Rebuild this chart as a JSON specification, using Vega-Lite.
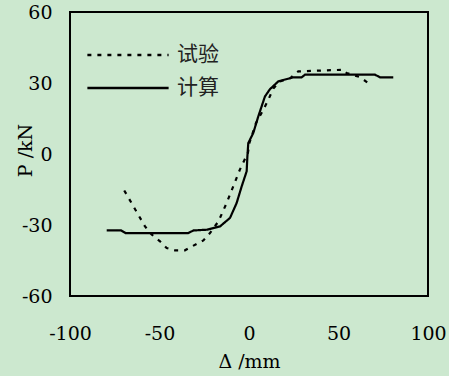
{
  "$schema": "https://vega.github.io/schema/vega-lite/v6.json",
  "width": 358,
  "height": 284,
  "autosize": "none",
  "padding": {"left": 70, "top": 12, "right": 21, "bottom": 80},
  "background": "#CCE8CF",
  "config": {
    "view": {"stroke": "black", "strokeWidth": 2, "fill": "#CCE8CF"},
    "font": "DejaVu Serif"
  },
  "datasets": {
    "curves": [
      {"s": "计算", "o": 1, "d": -79.5, "p": -32.3},
      {"s": "计算", "o": 2, "d": -71.5, "p": -32.3},
      {"s": "计算", "o": 3, "d": -69.0, "p": -33.4},
      {"s": "计算", "o": 4, "d": -34.0, "p": -33.4},
      {"s": "计算", "o": 5, "d": -31.0, "p": -32.3},
      {"s": "计算", "o": 6, "d": -23.6, "p": -32.0},
      {"s": "计算", "o": 7, "d": -16.2, "p": -30.6},
      {"s": "计算", "o": 8, "d": -10.6, "p": -27.0},
      {"s": "计算", "o": 9, "d": -6.9, "p": -20.7},
      {"s": "计算", "o": 10, "d": -4.1, "p": -13.7},
      {"s": "计算", "o": 11, "d": -1.3, "p": -7.3},
      {"s": "计算", "o": 12, "d": -0.9, "p": -1.0},
      {"s": "计算", "o": 13, "d": -0.4, "p": 4.6},
      {"s": "计算", "o": 14, "d": 2.4, "p": 8.9},
      {"s": "计算", "o": 15, "d": 5.2, "p": 15.9},
      {"s": "计算", "o": 16, "d": 8.9, "p": 24.3},
      {"s": "计算", "o": 17, "d": 11.7, "p": 27.4},
      {"s": "计算", "o": 18, "d": 16.4, "p": 30.7},
      {"s": "计算", "o": 19, "d": 24.8, "p": 32.4},
      {"s": "计算", "o": 20, "d": 29.4, "p": 32.4},
      {"s": "计算", "o": 21, "d": 31.3, "p": 33.5},
      {"s": "计算", "o": 22, "d": 70.4, "p": 33.5},
      {"s": "计算", "o": 23, "d": 73.2, "p": 32.4},
      {"s": "计算", "o": 24, "d": 80.6, "p": 32.4},
      {"s": "试验", "o": 1, "d": -69.7, "p": -15.4},
      {"s": "试验", "o": 2, "d": -58.1, "p": -30.6},
      {"s": "试验", "o": 3, "d": -54.4, "p": -34.0},
      {"s": "试验", "o": 4, "d": -49.7, "p": -36.9},
      {"s": "试验", "o": 5, "d": -46.0, "p": -39.7},
      {"s": "试验", "o": 6, "d": -41.4, "p": -40.7},
      {"s": "试验", "o": 7, "d": -35.8, "p": -40.7},
      {"s": "试验", "o": 8, "d": -31.0, "p": -38.7},
      {"s": "试验", "o": 9, "d": -25.5, "p": -36.5},
      {"s": "试验", "o": 10, "d": -21.8, "p": -33.4},
      {"s": "试验", "o": 11, "d": -17.1, "p": -28.5},
      {"s": "试验", "o": 12, "d": -12.5, "p": -20.7},
      {"s": "试验", "o": 13, "d": -8.8, "p": -13.7},
      {"s": "试验", "o": 14, "d": -5.1, "p": -6.6},
      {"s": "试验", "o": 15, "d": -2.4, "p": -2.3},
      {"s": "试验", "o": 16, "d": -0.6, "p": 0.5},
      {"s": "试验", "o": 17, "d": 0.2, "p": 4.6},
      {"s": "试验", "o": 18, "d": 3.9, "p": 13.1},
      {"s": "试验", "o": 19, "d": 8.0, "p": 18.7},
      {"s": "试验", "o": 20, "d": 10.8, "p": 22.9},
      {"s": "试验", "o": 21, "d": 13.6, "p": 27.7},
      {"s": "试验", "o": 22, "d": 17.3, "p": 30.7},
      {"s": "试验", "o": 23, "d": 22.9, "p": 32.0},
      {"s": "试验", "o": 24, "d": 27.5, "p": 34.9},
      {"s": "试验", "o": 25, "d": 52.7, "p": 35.6},
      {"s": "试验", "o": 26, "d": 54.5, "p": 34.2},
      {"s": "试验", "o": 27, "d": 62.0, "p": 32.5},
      {"s": "试验", "o": 28, "d": 68.5, "p": 28.9}
    ]
  },
  "layer": [
    {
      "mark": {"type": "rule", "color": "#222222", "strokeWidth": 1.5, "strokeDash": [9, 8]},
      "encoding": {"x": {"datum": 0, "type": "quantitative"}}
    },
    {
      "mark": {"type": "rule", "color": "#222222", "strokeWidth": 1.5, "strokeDash": [9, 8]},
      "encoding": {"y": {"datum": 0, "type": "quantitative"}}
    },
    {
      "mark": {"type": "rule", "color": "#222222", "strokeWidth": 1.5},
      "encoding": {"x": {"datum": -50, "type": "quantitative"}, "y": {"datum": 0, "type": "quantitative"}, "y2": {"datum": 3}}
    },
    {
      "mark": {"type": "rule", "color": "#222222", "strokeWidth": 1.5},
      "encoding": {"x": {"datum": 50, "type": "quantitative"}, "y": {"datum": 0, "type": "quantitative"}, "y2": {"datum": 3}}
    },
    {
      "mark": {"type": "rule", "color": "#222222", "strokeWidth": 1.5},
      "encoding": {"x": {"datum": 0, "type": "quantitative"}, "x2": {"datum": 3.5}, "y": {"datum": 30, "type": "quantitative"}}
    },
    {
      "mark": {"type": "rule", "color": "#222222", "strokeWidth": 1.5},
      "encoding": {"x": {"datum": 0, "type": "quantitative"}, "x2": {"datum": 3.5}, "y": {"datum": -30, "type": "quantitative"}}
    },
    {
      "data": {"name": "curves"},
      "mark": {"type": "line", "color": "black", "strokeWidth": 2.2},
      "encoding": {
        "x": {
          "field": "d", "type": "quantitative",
          "scale": {"domain": [-100, 100], "nice": false},
          "axis": {
            "values": [-100, -50, 0, 50, 100],
            "labelExpr": "replace(datum.label, '−', '-')",
            "ticks": false, "domain": false, "grid": false,
            "labelFont": "DejaVu Serif", "labelFontSize": 19, "labelColor": "black",
            "labelPadding": 28, "labelFlush": false,
            "title": "Δ /mm", "titleFont": "DejaVu Serif", "titleFontSize": 19,
            "titleFontWeight": "normal", "titleColor": "black",
            "titleBaseline": "alphabetic", "titleY": 71
          }
        },
        "y": {
          "field": "p", "type": "quantitative",
          "scale": {"domain": [-60, 60], "nice": false},
          "axis": {
            "values": [-60, -30, 0, 30, 60],
            "labelExpr": "replace(datum.label, '−', '-')",
            "ticks": false, "domain": false, "grid": false,
            "labelFont": "DejaVu Serif", "labelFontSize": 19, "labelColor": "black",
            "labelPadding": 18, "labelFlush": false,
            "title": "P /kN", "titleFont": "DejaVu Serif", "titleFontSize": 19,
            "titleFontWeight": "normal", "titleColor": "black",
            "titleBaseline": "alphabetic", "titleAngle": -90, "titleX": -39, "titleY": 138
          }
        },
        "order": {"field": "o", "type": "quantitative"},
        "strokeDash": {
          "field": "s", "type": "nominal",
          "scale": {"domain": ["试验", "计算"], "range": [[4, 6], [1, 0]]},
          "legend": {
            "orient": "none", "legendX": 16, "legendY": 33, "title": null,
            "symbolType": "stroke", "symbolSize": 6600, "symbolStrokeWidth": 2.5,
            "symbolStrokeColor": "black", "clipHeight": 20,
            "labelFont": "Noto Sans CJK SC", "labelFontSize": 21, "labelColor": "#222222",
            "labelOffset": 7, "rowPadding": 12
          }
        }
      }
    }
  ]
}
